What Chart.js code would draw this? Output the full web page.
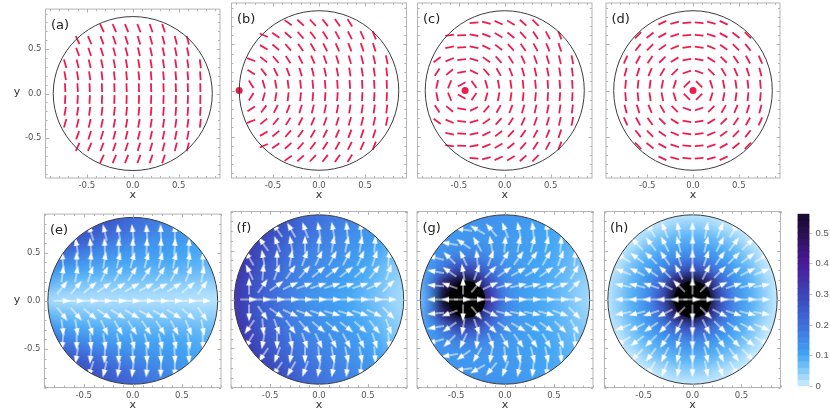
<!DOCTYPE html>
<html>
<head>
<meta charset="utf-8">
<title>Director and flow fields</title>
<script src="https://cdn.jsdelivr.net/npm/chart.js@4"></script>
<style>
  html, body { margin: 0; padding: 0; background: #fff; }
  #page { position: relative; width: 830px; height: 415px; overflow: hidden; }
  canvas { position: absolute; }
</style>
</head>
<body>
<div id="page"></div>
<script>
const axisTicks = [-0.9, -0.8, -0.7, -0.6, -0.5, -0.4, -0.3, -0.2, -0.1, 0, 0.1, 0.2, 0.3, 0.4, 0.5, 0.6, 0.7, 0.8, 0.9];

// dash grid (top row)
const dashX = [-0.736, -0.6, -0.469, -0.335, -0.2, -0.067, 0.067, 0.2, 0.335, 0.469, 0.6, 0.736];
const dashY = [0.736, 0.6, 0.469, 0.335, 0.2, 0.067, -0.067, -0.2, -0.335, -0.469, -0.6, -0.736];

// dash directions in degrees, row by row
const dashA = [
  [115,113,112,111,109,108],
  [115,113,111,109,108,107,106,105,104,104],
  [110,108,107,105,104,103,103,102,101,101],
  [106,104,103,102,101,100,100,99,99,98,98,97],
  [100,99,98,97,97,96,96,95,95,95,95,94],
  [93,93,93,92,92,92,92,92,92,92,92,91],
  [87,87,87,88,88,88,88,88,88,88,88,89],
  [80,81,82,83,83,84,84,85,85,85,85,86],
  [74,76,77,78,79,80,80,81,81,82,82,83],
  [70,72,73,75,76,77,77,78,79,79],
  [65,67,69,71,72,73,74,75,76,76],
  [65,67,68,69,71,72]
];
const dashB = [
  [144,138,133,128,125,122],
  [156,146,138,132,127,123,119,117,114,112],
  [150,140,131,125,120,117,114,111,109,108],
  [159,141,130,122,117,113,110,107,106,104,103,102],
  [147,127,117,111,107,104,102,101,99,99,98,97],
  [122,106,100,97,96,95,94,94,93,93,93,92],
  [58,74,80,83,84,85,86,86,87,87,87,88],
  [33,53,63,69,73,76,78,79,81,81,82,83],
  [21,39,50,58,63,67,70,73,74,76,77,78],
  [30,40,49,55,60,63,66,69,71,72],
  [24,34,42,48,53,57,61,63,66,68],
  [36,42,47,52,55,58]
];
const dashC = [
  [5,165,156,150,138,135],
  [8,1,170,159,150,142,132,124,118,111],
  [12,3,168,154,142,133,125,118,112,108],
  [36,22,6,164,145,132,122,115,110,107,103,101],
  [57,40,10,154,131,119,111,106,103,101,99,97],
  [78,68,29,125,106,100,98,96,95,94,94,93],
  [102,112,151,55,74,80,82,84,85,86,86,87],
  [123,140,170,26,49,61,69,74,77,79,81,83],
  [144,158,174,16,35,48,58,65,70,73,77,79],
  [168,177,12,26,38,47,55,62,68,72],
  [172,179,10,21,30,38,48,56,62,69],
  [175,15,24,30,42,45]
];
const dashD = [
  [25,15,5,175,165,155],
  [45,38,29,18,6,174,162,151,142,135],
  [52,45,36,23,8,172,157,145,135,128],
  [66,61,55,45,31,11,169,149,135,125,119,114],
  [75,72,67,59,45,19,161,135,121,113,108,105],
  [85,84,82,79,72,45,135,108,101,98,96,95],
  [95,96,98,101,108,135,45,72,79,82,84,85],
  [105,108,113,121,135,161,19,45,59,67,72,75],
  [114,119,125,135,149,169,11,31,45,55,61,66],
  [128,135,145,157,172,8,23,36,45,52],
  [135,142,151,162,174,6,18,29,38,45],
  [155,165,175,5,15,25]
];

// arrow grid (bottom row)
const arrowX = [-0.715, -0.572, -0.429, -0.286, -0.143, 0, 0.143, 0.286, 0.429, 0.572, 0.715];
const arrowY = [0.715, 0.572, 0.429, 0.286, 0.143, 0, -0.143, -0.286, -0.429, -0.572, -0.715];

const arrowE = [
  [108,104,100,97,94,92,90],
  [100,96,92,90,88,87,86,86,86],
  [95,90,85,80,77,75,75,76,78,82,88],
  [82,80,72,65,60,58,57,58,62,68,80],
  [52,50,40,35,32,30,28,28,32,40,55],
  [0,0,0,0,0,0,0,0,0,0,0],
  [-52,-50,-40,-35,-32,-30,-28,-28,-32,-40,-55],
  [-82,-80,-72,-65,-60,-58,-57,-58,-62,-68,-80],
  [-95,-90,-85,-80,-77,-75,-75,-76,-78,-82,-88],
  [-100,-96,-92,-90,-88,-87,-86,-86,-86],
  [-108,-104,-100,-97,-94,-92,-90]
];
const arrowF = [
  [125,120,110,100,100,95,95],
  [125,110,100,90,85,80,78,80,85],
  [120,100,90,80,70,65,62,62,65,72,85],
  [115,85,70,55,48,40,38,38,42,52,70],
  [90,55,35,25,20,18,16,16,18,25,45],
  [0,0,0,0,0,0,0,0,0,0,0],
  [-90,-55,-35,-25,-20,-18,-16,-16,-18,-25,-45],
  [-125,-85,-70,-55,-48,-40,-38,-38,-42,-52,-70],
  [-120,-100,-90,-80,-70,-65,-62,-62,-65,-72,-85],
  [-125,-110,-100,-90,-85,-80,-78,-80,-85],
  [-125,-120,-110,-100,-100,-95,-95]
];
const arrowG = [
  [172,150,130,112,102,96,92],
  [170,145,120,100,85,80,75,78,85],
  [165,135,115,95,70,60,55,55,60,70,85],
  [170,145,100,70,45,35,30,30,35,45,60],
  [175,160,90,50,25,15,12,12,15,20,45],
  [180,180,0,0,0,0,0,0,0,0,0],
  [-175,-160,-90,-50,-25,-15,-12,-12,-15,-20,-45],
  [-170,-145,-100,-70,-45,-35,-30,-30,-35,-45,-60],
  [-165,-135,-115,-95,-70,-60,-55,-55,-60,-70,-85],
  [-170,-145,-120,-100,-85,-80,-75,-78,-85],
  [-172,-150,-130,-112,-102,-96,-92]
];
const arrowH = [
  [121,112,101,90,79,68,59],
  [135,127,117,104,90,76,63,53,45],
  [149,143,135,124,108,90,72,56,45,37,31],
  [158,153,146,135,117,90,63,45,34,27,22],
  [169,166,162,153,135,90,45,27,18,14,11],
  [180,180,180,180,180,0,0,0,0,0,0],
  [-169,-166,-162,-153,-135,-90,-45,-27,-18,-14,-11],
  [-158,-153,-146,-135,-117,-90,-63,-45,-34,-27,-22],
  [-149,-143,-135,-124,-108,-90,-72,-56,-45,-37,-31],
  [-135,-127,-117,-104,-90,-76,-63,-53,-45],
  [-121,-112,-101,-90,-79,-68,-59]
];

// colour field samples, same grid for all four bottom panels
const heatAxis = [-0.9, -0.75, -0.6, -0.45, -0.3, -0.15, 0, 0.15, 0.3, 0.45, 0.6, 0.75, 0.9];
const heatRowsY = [0.9, 0.75, 0.6, 0.45, 0.3, 0.15, 0, -0.15, -0.3, -0.45, -0.6, -0.75, -0.9];

const heatE = [
  [.28,.28,.28,.28,.27,.25,.22,.2,.18,.16,.13,.12,.12],
  [.28,.28,.28,.27,.25,.22,.2,.18,.16,.14,.12,.11,.11],
  [.25,.25,.25,.22,.19,.17,.15,.14,.13,.12,.11,.1,.1],
  [.2,.2,.17,.15,.13,.12,.115,.11,.11,.1,.095,.09,.09],
  [.14,.12,.1,.095,.09,.085,.085,.08,.08,.08,.075,.07,.07],
  [.08,.065,.06,.055,.05,.05,.05,.05,.05,.045,.045,.04,.04],
  [.025,.02,.02,.02,.02,.02,.02,.018,.018,.018,.015,.015,.015],
  [.08,.065,.06,.055,.05,.05,.05,.05,.05,.045,.045,.04,.04],
  [.14,.12,.1,.095,.09,.085,.085,.08,.08,.08,.075,.07,.07],
  [.2,.2,.17,.15,.13,.12,.115,.11,.11,.1,.095,.09,.09],
  [.25,.25,.25,.22,.19,.17,.15,.14,.13,.12,.11,.1,.1],
  [.28,.28,.28,.27,.25,.22,.2,.18,.16,.14,.12,.11,.11],
  [.28,.28,.28,.28,.27,.25,.22,.2,.18,.16,.13,.12,.12]
];
const heatF = [
  [.36,.36,.34,.3,.26,.22,.2,.18,.17,.15,.13,.1,.1],
  [.36,.36,.33,.29,.25,.21,.19,.17,.16,.14,.12,.09,.09],
  [.36,.34,.3,.26,.22,.19,.17,.16,.14,.13,.11,.08,.07],
  [.36,.33,.28,.24,.2,.17,.155,.145,.13,.115,.095,.07,.05],
  [.36,.32,.26,.22,.185,.16,.145,.13,.115,.1,.08,.055,.04],
  [.36,.3,.25,.21,.175,.15,.135,.12,.105,.09,.07,.045,.03],
  [.36,.3,.24,.2,.17,.145,.125,.11,.1,.08,.06,.04,.025],
  [.36,.3,.25,.21,.175,.15,.135,.12,.105,.09,.07,.045,.03],
  [.36,.32,.26,.22,.185,.16,.145,.13,.115,.1,.08,.055,.04],
  [.36,.33,.28,.24,.2,.17,.155,.145,.13,.115,.095,.07,.05],
  [.36,.34,.3,.26,.22,.19,.17,.16,.14,.13,.11,.08,.07],
  [.36,.36,.33,.29,.25,.21,.19,.17,.16,.14,.12,.09,.09],
  [.36,.36,.34,.3,.26,.22,.2,.18,.17,.15,.13,.1,.1]
];
const heatG = [
  [.12,.12,.13,.135,.14,.14,.135,.125,.115,.105,.09,.08,.08],
  [.12,.12,.125,.13,.13,.13,.125,.12,.11,.1,.09,.08,.08],
  [.12,.12,.125,.125,.125,.125,.12,.115,.11,.1,.09,.075,.07],
  [.1,.12,.14,.16,.16,.14,.125,.115,.105,.1,.085,.07,.06],
  [.08,.12,.2,.3,.27,.2,.14,.115,.105,.095,.08,.06,.045],
  [.06,.17,.48,.6,.55,.28,.16,.12,.105,.09,.075,.05,.035],
  [.05,.14,.6,.6,.6,.36,.17,.12,.1,.09,.07,.045,.03],
  [.06,.17,.48,.6,.55,.28,.16,.12,.105,.09,.075,.05,.035],
  [.08,.12,.2,.3,.27,.2,.14,.115,.105,.095,.08,.06,.045],
  [.1,.12,.14,.16,.16,.14,.125,.115,.105,.1,.085,.07,.06],
  [.12,.12,.125,.125,.125,.125,.12,.115,.11,.1,.09,.075,.07],
  [.12,.12,.125,.13,.13,.13,.125,.12,.11,.1,.09,.08,.08],
  [.12,.12,.13,.135,.14,.14,.135,.125,.115,.105,.09,.08,.08]
];
const heatH = [
  [0,0,0,0,0,0,0,0,0,0,0,0,0],
  [0,0,0,0,.02,.04,.045,.04,.02,0,0,0,0],
  [0,0,.005,.045,.07,.085,.09,.085,.07,.045,.005,0,0],
  [0,0,.045,.08,.105,.135,.145,.135,.105,.08,.045,0,0],
  [0,.02,.07,.105,.16,.23,.28,.23,.16,.105,.07,.02,0],
  [0,.04,.085,.135,.23,.5,.6,.5,.23,.135,.085,.04,0],
  [0,.045,.09,.145,.28,.6,.6,.6,.28,.145,.09,.045,0],
  [0,.04,.085,.135,.23,.5,.6,.5,.23,.135,.085,.04,0],
  [0,.02,.07,.105,.16,.23,.28,.23,.16,.105,.07,.02,0],
  [0,0,.045,.08,.105,.135,.145,.135,.105,.08,.045,0,0],
  [0,0,.005,.045,.07,.085,.09,.085,.07,.045,.005,0,0],
  [0,0,0,0,.02,.04,.045,.04,.02,0,0,0,0],
  [0,0,0,0,0,0,0,0,0,0,0,0,0]
];

const discRadius = 0.866;
const defectB = [-0.867, 0];
const defectC = [-0.432, 0];
const defectD = [0, 0];
const coreG = [-0.39, 0];
const coreH = [0, 0];

// colour bar
const cbarLevels = [0,.02,.04,.06,.08,.1,.12,.14,.16,.18,.2,.22,.24,.26,.28,.3,.32,.34,.36,.38,.4,.42,.44,.46,.48,.5,.52,.54,.563];
const cbarTicks = [0, 0.1, 0.2, 0.3, 0.4, 0.5];
const cmapStops = [0, 0.05, 0.1, 0.2, 0.3, 0.4, 0.45, 0.5, 0.56, 0.6];
const cmapRgb = [[207,238,255],[134,203,250],[66,165,245],[63,111,220],[59,69,184],[74,26,154],[58,20,120],[40,16,79],[22,10,48],[0,0,0]];

const RED = "#ee1c4e";
const FONT = "'DejaVu Sans'";

function heatColor(v) {
  let i = 0;
  while (i < cmapStops.length - 2 && v > cmapStops[i + 1]) i++;
  const t = Math.min(1, (v - cmapStops[i]) / (cmapStops[i + 1] - cmapStops[i]));
  const c = cmapRgb[i].map((a, k) => Math.round(a + (cmapRgb[i + 1][k] - a) * t));
  return "rgb(" + c.join(",") + ")";
}

// rows are centred on the grid, short rows sit inside the disc
function fieldPoints(xs, ys, rows) {
  const pts = [], rot = [];
  rows.forEach((row, r) => {
    const off = (xs.length - row.length) / 2;
    row.forEach((a, c) => {
      pts.push({ x: xs[off + c], y: ys[r] });
      rot.push(-a);
    });
  });
  return { pts, rot };
}

const arrowSprite = document.createElement("canvas");
arrowSprite.width = 20;
arrowSprite.height = 10;
(function () {
  const g = arrowSprite.getContext("2d");
  g.strokeStyle = "#fff";
  g.lineWidth = 1;
  g.beginPath(); g.moveTo(1, 5); g.lineTo(11, 5); g.stroke();
  g.fillStyle = "#fff";
  g.beginPath(); g.moveTo(10, 2.2); g.lineTo(18, 5); g.lineTo(10, 7.8); g.closePath(); g.fill();
})();

function addCanvas(left, top, w, h) {
  const c = document.createElement("canvas");
  c.width = w; c.height = h;
  c.style.left = left + "px"; c.style.top = top + "px";
  document.getElementById("page").appendChild(c);
  return c;
}

function tickLabel(v) {
  const twice = v * 2;
  if (Math.abs(twice - Math.round(twice)) > 1e-6) return "";
  return Math.abs(v) < 1e-6 ? "0.0" : v.toFixed(1);
}

function makePanel(p) {
  const datasets = [];
  if (p.heat) {
    const pts = [], cols = [];
    p.heat.forEach((row, r) => row.forEach((v, c) => {
      pts.push({ x: heatAxis[c], y: heatRowsY[r] });
      cols.push(heatColor(v));
    }));
    datasets.push({ data: pts, order: 3, clip: false, pointStyle: "rect", pointRadius: 12,
      pointBackgroundColor: cols, pointBorderWidth: 0 });
  }
  if (p.core) {
    datasets.push({ data: [{ x: p.core[0], y: p.core[1] }], order: 2, pointStyle: "circle",
      pointRadius: 18.5, pointBackgroundColor: "#000", pointBorderWidth: 0 });
  }
  if (p.dash) {
    const f = fieldPoints(dashX, dashY, p.dash);
    datasets.push({ data: f.pts, order: 1, pointStyle: "line", pointRadius: 4.4,
      pointRotation: f.rot, pointBorderColor: RED, pointBorderWidth: 1.8 });
  }
  if (p.arrows) {
    const f = fieldPoints(arrowX, arrowY, p.arrows);
    datasets.push({ data: f.pts, order: 1, pointStyle: arrowSprite, pointRadius: 8,
      pointRotation: f.rot });
  }
  if (p.defect) {
    datasets.push({ data: [{ x: p.defect[0], y: p.defect[1] }], order: 0, pointStyle: "circle",
      pointRadius: 3.5, pointBackgroundColor: RED, pointBorderWidth: 0 });
  }

  const deco = {
    id: "deco",
    afterDatasetDraw(chart, args) {
      // smooth the colour cells and cut them to the disc
      if (!p.heat || args.index !== 0) return;
      const ctx = chart.ctx, sx = chart.scales.x, sy = chart.scales.y;
      const tmp = document.createElement("canvas");
      tmp.width = chart.width; tmp.height = chart.height;
      tmp.getContext("2d").drawImage(chart.canvas, 0, 0);
      ctx.save();
      ctx.clearRect(0, 0, chart.width, chart.height);
      ctx.beginPath();
      ctx.ellipse(sx.getPixelForValue(0), sy.getPixelForValue(0),
        sx.getPixelForValue(discRadius) - sx.getPixelForValue(0),
        sy.getPixelForValue(-discRadius) - sy.getPixelForValue(0), 0, 0, Math.PI * 2);
      ctx.clip();
      ctx.filter = "blur(6px)";
      ctx.drawImage(tmp, 0, 0);
      ctx.restore();
    },
    afterDraw(chart) {
      const ctx = chart.ctx, a = chart.chartArea, sx = chart.scales.x, sy = chart.scales.y;
      ctx.save();
      ctx.beginPath();
      ctx.ellipse(sx.getPixelForValue(0), sy.getPixelForValue(0),
        sx.getPixelForValue(discRadius) - sx.getPixelForValue(0),
        sy.getPixelForValue(-discRadius) - sy.getPixelForValue(0), 0, 0, Math.PI * 2);
      ctx.strokeStyle = "#3c3c3c";
      ctx.lineWidth = 1;
      ctx.stroke();

      ctx.strokeStyle = "#b4b4b4";
      ctx.strokeRect(a.left, a.top, a.right - a.left, a.bottom - a.top);
      ctx.beginPath();
      sx.ticks.forEach(t => {
        const len = tickLabel(t.value) ? 3.5 : 2;
        const px = Math.round(sx.getPixelForValue(t.value)) + 0.5;
        ctx.moveTo(px, a.bottom); ctx.lineTo(px, a.bottom - len);
        ctx.moveTo(px, a.top); ctx.lineTo(px, a.top + len);
      });
      sy.ticks.forEach(t => {
        const len = tickLabel(t.value) ? 3.5 : 2;
        const py = Math.round(sy.getPixelForValue(t.value)) + 0.5;
        ctx.moveTo(a.left, py); ctx.lineTo(a.left + len, py);
        ctx.moveTo(a.right, py); ctx.lineTo(a.right - len, py);
      });
      ctx.stroke();

      ctx.fillStyle = "#222";
      ctx.font = "13px " + FONT;
      ctx.textAlign = "left";
      ctx.textBaseline = "middle";
      ctx.fillText(p.letter, a.left + 5.5, a.top + 17);
      if (p.left) {
        ctx.font = "11px " + FONT;
        ctx.textAlign = "center";
        ctx.fillStyle = "#333";
        ctx.fillText("y", 17, sy.getPixelForValue(0) - 1);
      }
      ctx.restore();
    }
  };

  const tickFont = { family: FONT, size: 8.5 };
  const useTicks = s => { s.ticks = axisTicks.map(v => ({ value: v })); };
  new Chart(addCanvas(p.x, p.y, p.w, p.h), {
    type: "scatter",
    data: { datasets },
    plugins: [deco],
    options: {
      responsive: false,
      animation: false,
      events: [],
      layout: { autoPadding: false, padding: { top: p.t, right: p.r, left: 0, bottom: 0 } },
      plugins: { legend: { display: false }, tooltip: { enabled: false } },
      scales: {
        x: {
          type: "linear", min: -p.range, max: p.range,
          afterBuildTicks: useTicks,
          grid: { display: false, drawTicks: false, z: 1 }, border: { display: false },
          title: { display: true, text: "x", color: "#333", font: { family: FONT, size: 11 }, padding: { top: 0, bottom: 3 } },
          ticks: { z: 1, autoSkip: false, maxRotation: 0, padding: 3,
            color: "#555", font: tickFont, callback: tickLabel },
          afterFit(s) { s.height = p.b; }
        },
        y: {
          type: "linear", min: -p.range, max: p.range,
          afterBuildTicks: useTicks,
          grid: { display: false, drawTicks: false, z: 1 }, border: { display: false },
          ticks: { z: 1, autoSkip: false, padding: 4, display: !!p.left,
            color: "#555", font: tickFont, callback: tickLabel },
          afterFit(s) { s.width = p.l; }
        }
      }
    }
  });
}

const TOP = { y: 0, h: 205, t: 3, b: 27, range: 0.95 };
const BOT = { y: 205, h: 210, t: 6.5, b: 27.5, range: 0.9 };

makePanel({ ...TOP, letter: "(a)", left: true, x: 0, w: 226, l: 45.5, r: 6, dash: dashA });
makePanel({ ...TOP, letter: "(b)", x: 226, w: 186, l: 5.5, r: 5.5, dash: dashB, defect: defectB });
makePanel({ ...TOP, letter: "(c)", x: 412, w: 186, l: 5.5, r: 6, dash: dashC, defect: defectC });
makePanel({ ...TOP, letter: "(d)", x: 600, w: 186, l: 6, r: 6, dash: dashD, defect: defectD });
makePanel({ ...BOT, letter: "(e)", left: true, x: 0, w: 226, l: 44.5, r: 5, heat: heatE, arrows: arrowE });
makePanel({ ...BOT, letter: "(f)", x: 226, w: 186, l: 5, r: 5, heat: heatF, arrows: arrowF });
makePanel({ ...BOT, letter: "(g)", x: 412, w: 186, l: 5, r: 5, heat: heatG, arrows: arrowG, core: coreG });
makePanel({ ...BOT, letter: "(h)", x: 599, w: 187, l: 5.5, r: 5.5, heat: heatH, arrows: arrowH, core: coreH });

// colour bar: one floating bar per level band
const bands = cbarLevels.slice(0, -1).map((lo, i) => ({
  data: [[lo, cbarLevels[i + 1]]],
  backgroundColor: heatColor((lo + cbarLevels[i + 1]) / 2),
  borderWidth: 0, barPercentage: 1, categoryPercentage: 1, grouped: false
}));
new Chart(addCanvas(786, 205, 44, 210), {
  type: "bar",
  data: { labels: [""], datasets: bands },
  options: {
    responsive: false,
    animation: false,
    events: [],
    layout: { padding: { top: 6.5, bottom: 28.5, left: 11.5, right: 0 } },
    plugins: { legend: { display: false }, tooltip: { enabled: false } },
    scales: {
      x: { display: false },
      y: {
        position: "right", min: 0, max: 0.563,
        afterBuildTicks(s) { s.ticks = cbarTicks.map(v => ({ value: v })); },
        grid: { drawOnChartArea: false, tickLength: 3, color: "#c4c4c4" },
        border: { display: false },
        ticks: { padding: 3, color: "#555", font: { family: "'Liberation Sans'", size: 9.5 },
          callback: v => String(v) },
        afterFit(s) { s.width = 20.5; }
      }
    }
  }
});
</script>
</body>
</html>
